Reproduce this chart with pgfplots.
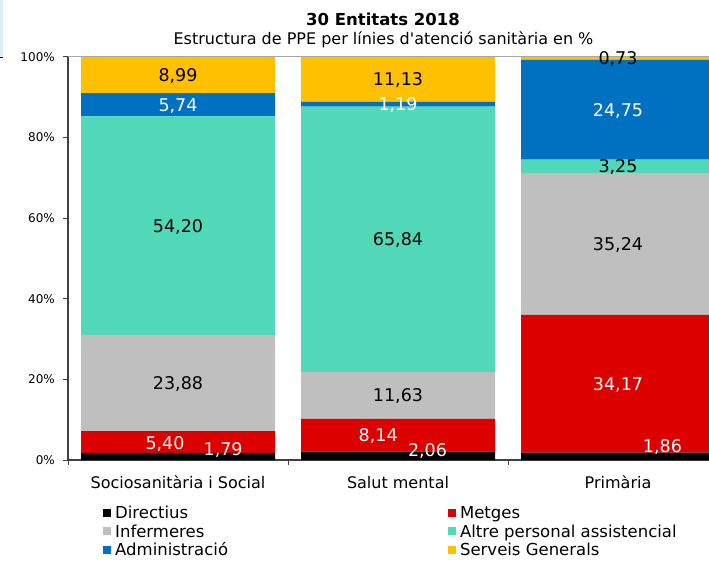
\documentclass[border=0pt]{standalone}
\usepackage{fontspec}
\setmainfont{DejaVu Sans}
\usepackage{pgfplots}
\pgfplotsset{compat=1.18}

\definecolor{cDir}{HTML}{000000}
\definecolor{cMet}{HTML}{DD0000}
\definecolor{cInf}{HTML}{BFBFBF}
\definecolor{cAlt}{HTML}{50D8B8}
\definecolor{cAdm}{HTML}{0070C0}
\definecolor{cSer}{HTML}{FFC000}
\definecolor{axgray}{HTML}{404040}
\definecolor{topgray}{HTML}{A6A6A6}
\definecolor{cLight}{HTML}{DDEFF5}

\newcommand\fs[1]{\fontsize{#1}{#1}\selectfont}
\tikzset{lbl/.style={font=\fs{17.5}, text depth=0pt, inner sep=0pt}}

\begin{document}
\begin{tikzpicture}[x=1pt,y=1pt]
\useasboundingbox (0,0) rectangle (709,562);
\fill[cLight] (0,504) rectangle (3,562);
\draw[black, line width=1pt] (0,504) -- (3,504);

\node[anchor=base, font=\bfseries\fs{16.5}] at (383,536) {30 Entitats 2018};
\node[anchor=base, font=\fs{16}] at (383.5,517) {Estructura de PPE per línies d\textquotesingle atenció sanitària en \%};

\begin{axis}[
  at={(68pt,102pt)}, anchor=south west,
  scale only axis, width=641pt, height=403pt,
  xmin=-0.5, xmax=2.4136, ymin=0, ymax=100,
  ybar stacked, bar width=194pt,
  axis lines*=left,
  axis line style={axgray, line width=1.5pt},
  tick align=outside, major tick length=5pt,
  tick style={axgray, line width=1pt},
  xtick={-0.5,0.5,1.5}, xticklabels={},
  extra x ticks={0,1,2},
  extra x tick labels={Sociosanitària i Social, Salut mental, Primària},
  extra x tick style={major tick length=0pt},
  xticklabel style={font=\fs{16}, anchor=base, yshift=-28pt},
  ytick={0,20,40,60,80,100},
  yticklabels={0\%,20\%,40\%,60\%,80\%,100\%},
  yticklabel style={font=\fs{12}, anchor=east, inner sep=0pt, xshift=-8pt},
  legend columns=2,
  legend cell align=left,
  legend image code/.code={\fill[#1] (0pt,-4pt) rectangle (8pt,4pt);},
  legend style={at={(0.0546,-0.1135)}, anchor=north west, draw=none, fill=none,
    inner sep=0pt, font=\fs{16.5}, row sep=4.5pt,
    nodes={inner sep=1pt, text height=12pt, text depth=0pt},
    /tikz/every odd column/.append style={column sep=3pt},
    /tikz/every even column/.append style={column sep=219pt}},
]
\addplot[fill=cDir, draw=none] coordinates {(0,1.79) (1,2.06) (2,1.86)};
\addlegendentry{Directius}
\addplot[fill=cMet, draw=none] coordinates {(0,5.40) (1,8.14) (2,34.17)};
\addlegendentry{Metges}
\addplot[fill=cInf, draw=none] coordinates {(0,23.88) (1,11.63) (2,35.24)};
\addlegendentry{Infermeres}
\addplot[fill=cAlt, draw=none] coordinates {(0,54.20) (1,65.84) (2,3.25)};
\addlegendentry{Altre personal assistencial}
\addplot[fill=cAdm, draw=none] coordinates {(0,5.74) (1,1.19) (2,24.75)};
\addlegendentry{Administració}
\addplot[fill=cSer, draw=none] coordinates {(0,8.99) (1,11.13) (2,0.73)};
\addlegendentry{Serveis Generals}

\coordinate (tl) at (rel axis cs:0,1);
\coordinate (tr) at (rel axis cs:1,1);
% posicions de les etiquetes
\coordinate (a1) at (axis cs:0.205,2.73);
\coordinate (a2) at (axis cs:-0.059,4.22);
\coordinate (a3) at (axis cs:0,19.13);
\coordinate (a4) at (axis cs:0,58.17);
\coordinate (a5) at (axis cs:0,88.14);
\coordinate (a6) at (axis cs:0,95.50);
\coordinate (b1) at (axis cs:1.134,2.36);
\coordinate (b2) at (axis cs:0.91,6.08);
\coordinate (b3) at (axis cs:1,16.02);
\coordinate (b4) at (axis cs:1,54.75);
\coordinate (b5) at (axis cs:1,88.27);
\coordinate (b6) at (axis cs:1,94.42);
\coordinate (c1) at (axis cs:2.202,3.47);
\coordinate (c2) at (axis cs:2,18.95);
\coordinate (c3) at (axis cs:2,53.65);
\coordinate (c4) at (axis cs:2,72.90);
\coordinate (c5) at (axis cs:2,86.90);
\coordinate (c6) at (axis cs:2,99.64);
\end{axis}

\draw[topgray, line width=1pt] (tl) -- (tr);

\node[lbl, white] at (a1) {1,79};
\node[lbl, white] at (a2) {5,40};
\node[lbl] at (a3) {23,88};
\node[lbl] at (a4) {54,20};
\node[lbl, white] at (a5) {5,74};
\node[lbl] at (a6) {8,99};

\node[lbl, white] at (b1) {2,06};
\node[lbl, white] at (b2) {8,14};
\node[lbl] at (b3) {11,63};
\node[lbl] at (b4) {65,84};
\node[lbl, white] at (b5) {1,19};
\node[lbl] at (b6) {11,13};

\node[lbl, white] at (c1) {1,86};
\node[lbl, white] at (c2) {34,17};
\node[lbl] at (c3) {35,24};
\node[lbl] at (c4) {3,25};
\node[lbl, white] at (c5) {24,75};
\node[lbl] at (c6) {0,73};
\end{tikzpicture}
\end{document}
